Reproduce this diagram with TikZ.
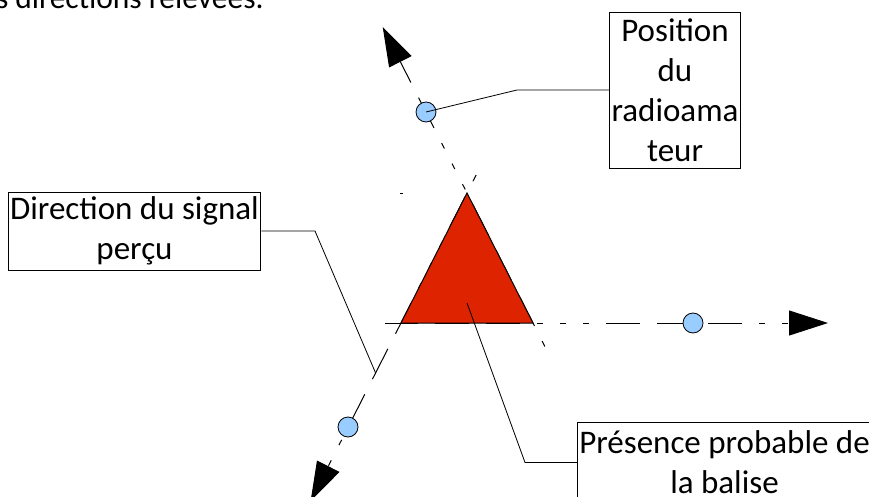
\documentclass[tikz,border=0pt]{standalone}
\usepackage{fontspec}
\setmainfont{Carlito}
\usetikzlibrary{arrows.meta}
\definecolor{rougebalise}{RGB}{221,35,0}
\definecolor{bleuposte}{RGB}{153,204,255}

\begin{document}
\begin{tikzpicture}[x=1pt, y=-1pt,
    legende/.style={draw, line width=0.8pt, fill=white, align=center, inner sep=2pt, font=\fontsize{33pt}{40pt}\selectfont},
    releve/.style={line width=1pt, dash pattern=on 6pt off 17pt on 6pt off 17pt on 6pt off 17pt on 34pt off 17pt on 34pt off 17pt on 34pt off 17pt, -{Triangle[length=39pt, width=25pt]}},
    poste/.style={circle, draw, line width=0.8pt, fill=bleuposte, minimum size=20pt, inner sep=0pt},
    trait/.style={line width=0.8pt}]
  \useasboundingbox (0,0) rectangle (869,497);
  \clip (0,0) rectangle (869,497);

  \node[anchor=base east, font=\fontsize{31.5pt}{38pt}\selectfont] (intro) at (267,9) {s directions relevées.};

  \coordinate (A) at (467,193);
  \coordinate (L) at (401,323);
  \coordinate (R) at (533,323);

  \coordinate (h0) at (385,323);
  \coordinate (h1) at (828,323);
  \coordinate (n0) at (546.7,350);
  \coordinate (n1) at (382.7,27);
  \coordinate (s0) at (476.1,175);
  \coordinate (s1) at (310.6,501);

  \draw[releve, dash phase=70pt] (h0) -- (h1);
  \draw[releve, dash phase=42pt] (n0) -- (n1);
  \draw[releve, dash phase=147pt] (s0) -- (s1);
  \draw[line width=0.8pt] (400,193) -- (403,193);

  \draw[line width=1pt, fill=rougebalise] (A) -- (L) -- (R) -- cycle;

  \node[poste] (p1) at (426,112) {};
  \node[poste] (p2) at (693,323) {};
  \node[poste] (p3) at (348,427) {};

  \node[legende, minimum width=130pt, minimum height=156pt] (pos) at (675,90) {Position\\du\\radioama\\teur};
  \node[legende, minimum width=243pt, minimum height=78pt] (dir) at (134.5,231) {Direction du signal\\perçu};
  \node[legende, minimum width=281pt, minimum height=80pt] (bal) at (724.5,462.5) {Présence probable de\\la balise};

  \coordinate (k1) at (517,90);
  \coordinate (k2) at (315,231);
  \coordinate (d2) at (375.6,373);
  \coordinate (k3) at (525,462.5);
  \coordinate (z) at (467,303);
  \draw[trait] (pos.west) -- (k1) -- (p1.center);
  \draw[trait] (dir.east) -- (k2) -- (d2);
  \draw[trait] (bal.west) -- (k3) -- (z);
\end{tikzpicture}
\end{document}
